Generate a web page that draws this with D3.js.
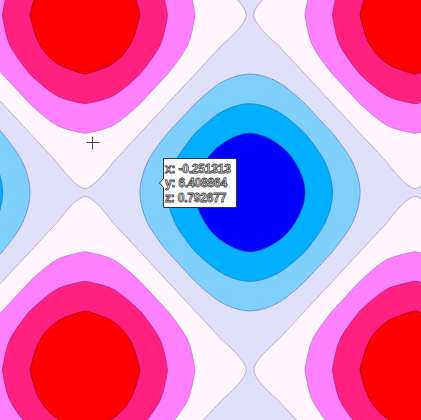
<!DOCTYPE html>
<html>
<head>
<meta charset="utf-8">
<script src="https://cdn.jsdelivr.net/npm/d3@7"></script>
<style>
  html, body { margin: 0; padding: 0; background: #fff; overflow: hidden; }
  svg { display: block; }
</style>
</head>
<body>
<div id="chart"></div>
<script>
const width = 421
const height = 420

// grid sample positions (degrees) and surface values
const xs = [-150, -120, -90, -60, -30, 0, 30, 60, 90, 120, 150, 180, 210, 240, 270, 300, 330, 360, 390, 420]
const ys = [-60, -30, 0, 30, 60, 90, 120, 150, 180, 210, 240, 270, 300, 330, 360, 390, 420, 450]
const zGrid = [
  [-0.37, 0, 0.5, 1, 1.37, 1.5, 1.37, 1, 0.5, 0, -0.37, -0.5, -0.37, 0, 0.5, 1, 1.37, 1.5, 1.37, 1],
  [0, 0.37, 0.87, 1.37, 1.74, 1.87, 1.74, 1.37, 0.87, 0.37, 0, -0.13, 0, 0.37, 0.87, 1.37, 1.74, 1.87, 1.74, 1.37],
  [0.13, 0.5, 1, 1.5, 1.87, 2, 1.87, 1.5, 1, 0.5, 0.13, -0.02, 0.13, 0.5, 1, 1.5, 1.87, 2, 1.87, 1.5],
  [0, 0.37, 0.87, 1.37, 1.74, 1.87, 1.74, 1.37, 0.87, 0.37, 0, -0.13, 0, 0.37, 0.87, 1.37, 1.74, 1.87, 1.74, 1.37],
  [-0.37, 0, 0.5, 1, 1.37, 1.5, 1.37, 1, 0.5, 0, -0.37, -0.5, -0.37, 0, 0.5, 1, 1.37, 1.5, 1.37, 1],
  [-0.87, -0.5, 0, 0.5, 0.87, 1, 0.87, 0.5, 0, -0.5, -0.87, -1, -0.87, -0.5, 0, 0.5, 0.87, 1, 0.87, 0.5],
  [-1.37, -1, -0.5, 0, 0.37, 0.5, 0.37, 0, -0.5, -1, -1.37, -1.5, -1.37, -1, -0.5, 0, 0.37, 0.5, 0.37, 0],
  [-1.74, -1.37, -0.87, -0.37, 0, 0.13, 0, -0.37, -0.87, -1.37, -1.74, -1.87, -1.74, -1.37, -0.87, -0.37, 0, 0.13, 0, -0.37],
  [-1.87, -1.5, -1, -0.5, -0.13, -0.02, -0.13, -0.5, -1, -1.5, -1.87, -2, -1.87, -1.5, -1, -0.5, -0.13, -0.02, -0.13, -0.5],
  [-1.74, -1.37, -0.87, -0.37, 0, 0.13, 0, -0.37, -0.87, -1.37, -1.74, -1.87, -1.74, -1.37, -0.87, -0.37, 0, 0.13, 0, -0.37],
  [-1.37, -1, -0.5, 0, 0.37, 0.5, 0.37, 0, -0.5, -1, -1.37, -1.5, -1.37, -1, -0.5, 0, 0.37, 0.5, 0.37, 0],
  [-0.87, -0.5, 0, 0.5, 0.87, 1, 0.87, 0.5, 0, -0.5, -0.87, -1, -0.87, -0.5, 0, 0.5, 0.87, 1, 0.87, 0.5],
  [-0.37, 0, 0.5, 1, 1.37, 1.5, 1.37, 1, 0.5, 0, -0.37, -0.5, -0.37, 0, 0.5, 1, 1.37, 1.5, 1.37, 1],
  [0, 0.37, 0.87, 1.37, 1.74, 1.87, 1.74, 1.37, 0.87, 0.37, 0, -0.13, 0, 0.37, 0.87, 1.37, 1.74, 1.87, 1.74, 1.37],
  [0.13, 0.5, 1, 1.5, 1.87, 2, 1.87, 1.5, 1, 0.5, 0.13, -0.02, 0.13, 0.5, 1, 1.5, 1.87, 2, 1.87, 1.5],
  [0, 0.37, 0.87, 1.37, 1.74, 1.87, 1.74, 1.37, 0.87, 0.37, 0, -0.13, 0, 0.37, 0.87, 1.37, 1.74, 1.87, 1.74, 1.37],
  [-0.37, 0, 0.5, 1, 1.37, 1.5, 1.37, 1, 0.5, 0, -0.37, -0.5, -0.37, 0, 0.5, 1, 1.37, 1.5, 1.37, 1],
  [-0.87, -0.5, 0, 0.5, 0.87, 1, 0.87, 0.5, 0, -0.5, -0.87, -1, -0.87, -0.5, 0, 0.5, 0.87, 1, 0.87, 0.5]
]

// contour levels, band fills (lowest band first) and line colours
const levels = [-1.5, -1, -0.5, 0, 0.5, 1, 1.5]
const bandColors = ["#0000ff", "#00b0ff", "#80d0ff", "#e0e0fb", "#fff5fd", "#ff80ff", "#ff2080", "#ff0000"]
const lineColors = ["#1030a0", "#2078b8", "#6088c0", "#a898cc", "#c070c8", "#b02070", "#a00020"]

// hover readout shown in the picture
const tipLines = ["x: -0.251313", "y: 6.408864", "z: 0.792677"]

const svg = d3.select("#chart").append("svg")
  .attr("width", width)
  .attr("height", height)

const x = d3.scaleLinear().domain([0, 360]).range([85, 415])
const y = d3.scaleLinear().domain([0, 360]).range([15, 370])

const nx = xs.length
const ny = ys.length
// contour grid coords -> data coords (samples sit at cell centres)
const gx = d3.scaleLinear().domain([0.5, nx - 0.5]).range([xs[0], xs[nx - 1]])
const gy = d3.scaleLinear().domain([0.5, ny - 0.5]).range([ys[0], ys[ny - 1]])

const values = zGrid.flat()
const contours = d3.contours().size([nx, ny]).thresholds(levels)(values)

const line = d3.line()
  .x((p) => x(gx(p[0])))
  .y((p) => y(gy(p[1])))
  .curve(d3.curveCatmullRomClosed.alpha(0.5))

const ringPath = (geom) => {
  let s = ""
  geom.coordinates.forEach((poly) => {
    poly.forEach((ring) => {
      const pts = ring.slice(0, ring.length - 1)
      if (pts.length > 2) s += line(pts)
    })
  })
  return s
}

svg.append("rect")
  .attr("width", width)
  .attr("height", height)
  .attr("fill", bandColors[0])

const g = svg.append("g")

g.selectAll("path.band")
  .data(contours)
  .join("path")
  .attr("class", "band")
  .attr("d", ringPath)
  .attr("fill", (d, i) => bandColors[i + 1])
  .attr("fill-rule", "evenodd")

g.selectAll("path.iso")
  .data(contours)
  .join("path")
  .attr("class", "iso")
  .attr("d", ringPath)
  .attr("fill", "none")
  .attr("stroke", (d, i) => lineColors[i])
  .attr("stroke-width", 0.8)

// crosshair cursor
const cx = 92.5, cy = 142.5
svg.append("path")
  .attr("d", `M${cx - 6},${cy}H${cx + 7}M${cx},${cy - 6}V${cy + 7}`)
  .attr("stroke", "#444")
  .attr("stroke-width", 1)

// tooltip
const tip = svg.append("g").attr("transform", "translate(163.5,158.5)")
tip.append("path")
  .attr("d", "M0,0H73V49H0V29L-4,24.5L0,20Z")
  .attr("fill", "#fff")
  .attr("stroke", "#333")
  .attr("stroke-width", 1)

tip.selectAll("text")
  .data(tipLines)
  .join("text")
  .attr("x", 1.5)
  .attr("y", (d, i) => 14 + i * 14.5)
  .attr("font-family", "Liberation Sans, Arial, sans-serif")
  .attr("font-size", 12)
  .attr("font-weight", "bold")
  .attr("letter-spacing", -0.2)
  .attr("fill", "#fafafa")
  .attr("stroke", "#3a3a3a")
  .attr("stroke-width", 0.8)
  .text((d) => d)
</script>
</body>
</html>
